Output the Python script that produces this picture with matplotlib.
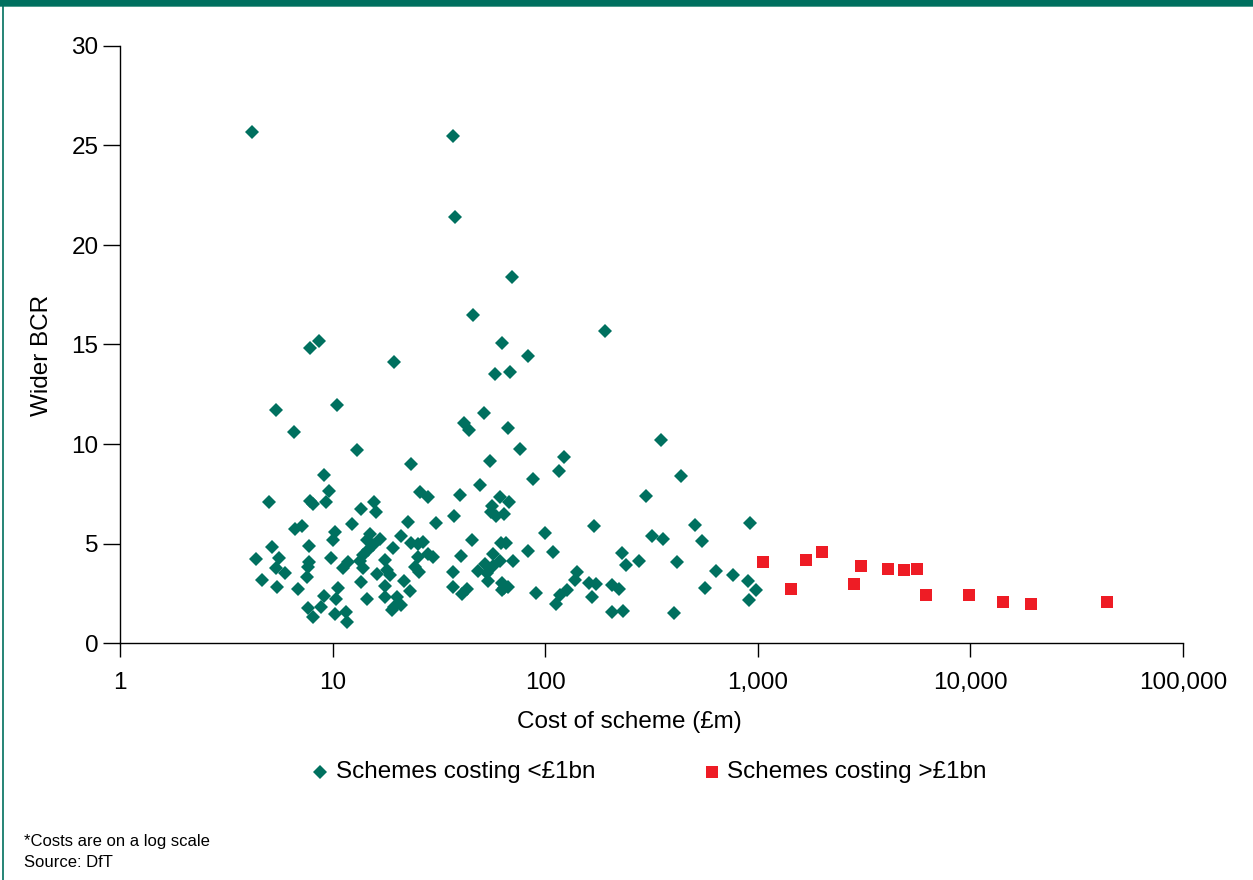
import matplotlib
matplotlib.use("Agg")
import matplotlib.pyplot as plt
from matplotlib.patches import Rectangle
from matplotlib.lines import Line2D
from matplotlib.ticker import FixedLocator, NullLocator

plt.rcParams['font.family'] = ['Liberation Sans', 'DejaVu Sans']

# Schemes costing < £1bn: cost (£m), wider BCR
small_cost = [4.18, 36.9, 37.6, 69.8, 45.7, 191, 62.6, 83.0, 58.1, 68.3, 8.63, 7.83, 19.4,
              5.42, 10.5, 6.58, 13.0, 9.11, 9.62, 5.02, 7.83, 8.09, 9.31, 13.6, 15.7, 16.0,
              6.65, 7.18, 12.3, 22.6, 10.3, 10.0, 15.0, 14.5, 16.7, 21.0, 15.5, 7.74, 5.19,
              19.2, 14.7, 13.9, 4.36, 5.60, 9.83, 7.74, 11.8, 17.6, 13.5, 11.2, 5.42, 7.66,
              13.9, 18.0, 5.97, 7.58, 16.2, 18.6, 4.66, 5.48, 6.88, 13.6, 17.6, 21.7, 10.6,
              9.11, 10.4, 14.5, 17.6, 20.1, 19.4, 7.66, 8.82, 21.0, 19.0, 8.09, 10.3, 11.6,
              11.7, 23.4, 23.4, 23.1,
              51.5, 41.5, 43.8, 66.8, 76.1, 123, 116, 55.0, 87.7, 49.3, 25.8, 28.1, 39.7,
              61.3, 67.6, 56.2, 55.6, 58.7, 64.0, 37.2, 30.6, 99.8, 45.3, 62.0, 65.4, 83.0,
              109, 25.2, 26.6, 25.2, 28.1, 29.7, 40.2, 56.8, 61.3, 70.6, 52.1, 56.8, 24.4,
              25.5, 48.3, 53.2, 36.8, 53.8, 36.8, 42.9, 40.6, 62.6, 64.0, 62.6, 66.8, 90.5,
              141, 138, 127, 117, 112,
              351, 435, 298, 170, 507, 919, 318, 358, 547, 230, 240, 276, 417, 636, 764,
              899, 981, 910, 565, 161, 173, 206, 222, 166, 206, 232, 404]
small_bcr = [25.7, 25.5, 21.4, 18.4, 16.5, 15.7, 15.1, 14.4, 13.5, 13.6, 15.2, 14.8, 14.1,
             11.7, 11.96, 10.6, 9.7, 8.44, 7.64, 7.09, 7.14, 6.98, 7.09, 6.73, 7.09, 6.58,
             5.73, 5.88, 5.98, 6.08, 5.58, 5.18, 5.48, 5.18, 5.23, 5.38, 4.92, 4.87, 4.82,
             4.77, 4.67, 4.42, 4.22, 4.27, 4.27, 4.07, 4.07, 4.17, 4.12, 3.77, 3.77, 3.82,
             3.77, 3.67, 3.52, 3.32, 3.47, 3.42, 3.17, 2.81, 2.71, 3.07, 2.86, 3.12, 2.76,
             2.36, 2.21, 2.21, 2.31, 2.31, 1.81, 1.76, 1.81, 1.91, 1.66, 1.31, 1.46, 1.56,
             1.06, 9.0, 5.03, 2.63,
             11.56, 11.06, 10.70, 10.80, 9.75, 9.35, 8.64, 9.15, 8.24, 7.94, 7.59, 7.34, 7.44,
             7.34, 7.09, 6.88, 6.58, 6.38, 6.48, 6.38, 6.03, 5.53, 5.18, 5.03, 5.03, 4.62,
             4.57, 4.97, 5.08, 4.32, 4.47, 4.32, 4.37, 4.47, 4.12, 4.12, 3.97, 3.87, 3.82,
             3.57, 3.62, 3.52, 3.57, 3.12, 2.81, 2.71, 2.46, 3.02, 2.76, 2.66, 2.81, 2.51,
             3.57, 3.17, 2.66, 2.41, 1.96,
             10.2, 8.39, 7.39, 5.88, 5.93, 6.03, 5.38, 5.23, 5.13, 4.52, 3.92, 4.12, 4.07,
             3.62, 3.42, 3.12, 2.66, 2.16, 2.76, 3.02, 2.96, 2.91, 2.71, 2.31, 1.56, 1.61, 1.51]

# Schemes costing > £1bn
large_cost = [1058, 1432, 1686, 2004, 2834, 3058, 4095, 4875, 5610, 6185, 9840, 14230, 19280, 43950]
large_bcr = [4.07, 2.71, 4.17, 4.57, 2.96, 3.87, 3.72, 3.67, 3.72, 2.41, 2.41, 2.06, 1.96, 2.06]

x_ticks = [1, 10, 100, 1000, 10000, 100000]
x_tick_labels = ['1', '10', '100', '1,000', '10,000', '100,000']
y_ticks = [0, 5, 10, 15, 20, 25, 30]

GREEN = '#00705f'
RED = '#ee1c25'

W, H = 1253, 880
fig = plt.figure(figsize=(W / 100, H / 100), dpi=100)
fig.patch.set_facecolor('white')

# frame decoration
fig.add_artist(Rectangle((0, 1 - 6 / H), 1, 6 / H, transform=fig.transFigure,
                         facecolor='#00705f', edgecolor='none'))
fig.add_artist(Rectangle((0, 1 - 7.5 / H), 1, 1.5 / H, transform=fig.transFigure,
                         facecolor='#4f9c8e', edgecolor='none'))
fig.add_artist(Line2D([3 / W, 3 / W], [0, 1 - 6 / H], transform=fig.transFigure,
                      color=GREEN, lw=1.2))

ax = fig.add_axes([120 / W, 1 - 643 / H, (1183 - 120) / W, (643 - 46) / H])
ax.set_xscale('log')
ax.set_xlim(1, 100000)
ax.set_ylim(0, 30)

ax.plot(small_cost, small_bcr, linestyle='none', marker='D', markersize=6.8,
        color=GREEN, markeredgewidth=0, zorder=3)
ax.plot(large_cost, large_bcr, linestyle='none', marker='s', markersize=9,
        color=RED, markeredgewidth=0, zorder=3)

for s in ['top', 'right']:
    ax.spines[s].set_visible(False)
for s in ['left', 'bottom']:
    ax.spines[s].set_linewidth(1.0)
    ax.spines[s].set_color('black')

ax.xaxis.set_major_locator(FixedLocator(x_ticks))
ax.xaxis.set_minor_locator(NullLocator())
ax.set_xticklabels(x_tick_labels)
ax.set_yticks(y_ticks)
ax.tick_params(axis='x', direction='out', length=10, width=1.0, pad=11, labelsize=17.5)
ax.tick_params(axis='y', direction='out', length=12.5, width=1.0, pad=3, labelsize=17.5)

fig.text(42 / W, 1 - 355 / H, 'Wider BCR', rotation=90, ha='center', va='center', fontsize=17.5)
fig.text(517 / W, 1 - 722 / H, 'Cost of scheme (£m)', ha='left', va='center', fontsize=17.5)

# legend
fig.add_artist(Line2D([320 / W], [1 - 772 / H], transform=fig.transFigure, marker='D',
                      markersize=6.8, color=GREEN, markeredgewidth=0, linestyle='none'))
fig.text(336 / W, 1 - 772 / H, 'Schemes costing <£1bn', ha='left', va='center', fontsize=17.5)
fig.add_artist(Line2D([712 / W], [1 - 772 / H], transform=fig.transFigure, marker='s',
                      markersize=9, color=RED, markeredgewidth=0, linestyle='none'))
fig.text(727 / W, 1 - 772 / H, 'Schemes costing >£1bn', ha='left', va='center', fontsize=17.5)

fig.text(24 / W, 1 - 841 / H, '*Costs are on a log scale', ha='left', va='center', fontsize=12)
fig.text(24 / W, 1 - 862 / H, 'Source: DfT', ha='left', va='center', fontsize=12)

fig.savefig('out.png', dpi=100, facecolor='white')
